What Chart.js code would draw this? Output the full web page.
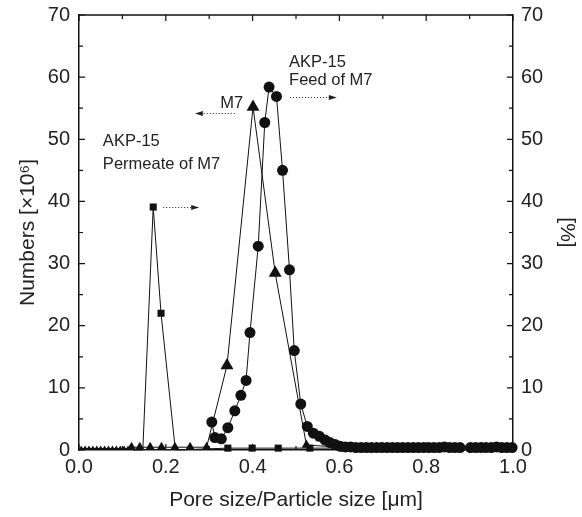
<!DOCTYPE html>
<html lang="en">
<head>
<meta charset="UTF-8" />
<title>Pore size / particle size distribution</title>
<script src="https://cdn.jsdelivr.net/npm/chart.js@4.4.0/dist/chart.umd.min.js"></script>
<style>
  html, body { margin: 0; padding: 0; background: #ffffff; }
  #wrap { width: 582px; height: 517px; position: relative; }
</style>
</head>
<body>
<div id="wrap"><canvas id="psd"></canvas></div>
<script>
// Permeate of M7 (squares)
const permX = [0.125, 0.147, 0.171, 0.189, 0.222, 0.343, 0.399, 0.459, 0.532, 0.610];
const permY = [0.0, 0.0, 39.1, 22.0, 0.0, 0.3, 0.3, 0.3, 0.3, 0.3];
const permR = [0, 0, 5, 5, 0, 5, 5, 5, 5, 5];

// M7 membrane (triangles)
const m7X = [0.005, 0.014, 0.023, 0.032, 0.041, 0.050, 0.059, 0.068, 0.077, 0.086, 0.095, 0.104, 0.113,
             0.121, 0.140, 0.164, 0.190, 0.221, 0.256, 0.294, 0.341, 0.401, 0.452, 0.524, 0.603, 0.696, 0.800, 0.930];
const m7Y = [0.25, 0.25, 0.25, 0.25, 0.25, 0.25, 0.25, 0.25, 0.25, 0.25, 0.25, 0.25, 0.25,
             0.45, 0.45, 0.45, 0.45, 0.45, 0.45, 0.45, 13.6, 55.2, 28.5, 0.8, 0.45, 0.45, 0.45, 0.45];
const m7R = [3, 3, 3, 3, 3, 3, 3, 3, 3, 3, 3, 3, 3,
             5.5, 5.5, 5.5, 5.5, 5.5, 5.5, 5.5, 7.5, 7.5, 7.5, 5.5, 5.5, 5.5, 5.5, 5.5];

// Feed of M7 (circles)
const feedX = [0.306, 0.313, 0.328, 0.343, 0.359, 0.373, 0.385, 0.394, 0.413, 0.428, 0.438, 0.455,
               0.469, 0.485, 0.496, 0.511, 0.526, 0.540, 0.554, 0.567, 0.578, 0.590, 0.602, 0.614,
               0.626, 0.638, 0.650, 0.662, 0.674, 0.686, 0.698, 0.710, 0.722, 0.734, 0.746, 0.758,
               0.770, 0.782, 0.794, 0.806, 0.818, 0.830, 0.842, 0.854, 0.866, 0.878, 0.902, 0.914,
               0.926, 0.938, 0.950, 0.962, 0.974, 0.986, 0.998];
const feedY = [4.5, 2.0, 1.8, 3.6, 6.3, 8.8, 11.2, 18.9, 32.8, 52.7, 58.4, 56.9,
               45.0, 29.0, 16.0, 7.4, 3.8, 2.7, 2.2, 1.6, 1.2, 0.9, 0.6, 0.5,
               0.5, 0.4, 0.4, 0.4, 0.4, 0.4, 0.4, 0.4, 0.4, 0.4, 0.4, 0.4,
               0.4, 0.4, 0.4, 0.4, 0.4, 0.4, 0.5, 0.4, 0.4, 0.4, 0.4, 0.4,
               0.4, 0.4, 0.4, 0.5, 0.4, 0.4, 0.4];

const yTicks = [0, 10, 20, 30, 40, 50, 60, 70];
const xTicks = [0.0, 0.2, 0.4, 0.6, 0.8, 1.0];

const pts = (xs, ys) => xs.map((x, i) => ({ x: x, y: ys[i] }));
const FONT = '"Liberation Sans", Arial, sans-serif';

// inward ticks, top frame line, labels and dotted arrows
const decor = {
  id: 'decor',
  afterDraw(chart) {
    const { ctx, chartArea: a, scales } = chart;
    const sx = scales.x, sy = scales.y;
    ctx.save();
    ctx.strokeStyle = '#111';
    ctx.lineWidth = 1.5;
    ctx.beginPath();
    ctx.moveTo(a.left, a.top); ctx.lineTo(a.right, a.top);
    ctx.stroke();
    ctx.lineWidth = 1.2;
    ctx.beginPath();
    for (let i = 0; i <= 10; i++) {
      const px = sx.getPixelForValue(i / 10);
      const len = i % 2 === 0 ? 6 : 4;
      ctx.moveTo(px, a.bottom); ctx.lineTo(px, a.bottom - len);
      ctx.moveTo(px, a.top); ctx.lineTo(px, a.top + len);
    }
    for (let j = 0; j <= 14; j++) {
      const py = sy.getPixelForValue(j * 5);
      const len = j % 2 === 0 ? 6 : 4;
      ctx.moveTo(a.left, py); ctx.lineTo(a.left + len, py);
      ctx.moveTo(a.right, py); ctx.lineTo(a.right - len, py);
    }
    ctx.stroke();

    ctx.fillStyle = '#222';
    ctx.font = '16.5px ' + FONT;
    ctx.textBaseline = 'middle';
    const txt = (s, x, y, align) => {
      ctx.textAlign = align;
      ctx.fillText(s, sx.getPixelForValue(x), sy.getPixelForValue(y));
    };
    txt('AKP-15', 0.055, 49.6, 'left');
    txt('Permeate of M7', 0.055, 45.9, 'left');
    txt('M7', 0.378, 55.8, 'right');
    txt('AKP-15', 0.484, 62.4, 'left');
    txt('Feed of M7', 0.484, 59.4, 'left');

    const arrow = (x0, x1, y) => {
      const p0 = sx.getPixelForValue(x0), p1 = sx.getPixelForValue(x1);
      const py = Math.round(sy.getPixelForValue(y)) + 0.5;
      const dir = Math.sign(p1 - p0);
      ctx.strokeStyle = '#222';
      ctx.lineWidth = 1;
      ctx.setLineDash([1, 2]);
      ctx.beginPath();
      ctx.moveTo(p0, py); ctx.lineTo(p1 - dir * 6, py);
      ctx.stroke();
      ctx.setLineDash([]);
      ctx.beginPath();
      ctx.moveTo(p1, py);
      ctx.lineTo(p1 - dir * 8, py - 2.5);
      ctx.lineTo(p1 - dir * 8, py + 2.5);
      ctx.closePath();
      ctx.fill();
    };
    arrow(0.194, 0.277, 39.1);
    arrow(0.359, 0.267, 54.3);
    arrow(0.486, 0.594, 56.8);
    ctx.restore();
  }
};

const lineSet = (label, data, style, radius) => ({
  label: label,
  data: data,
  borderColor: '#111',
  borderWidth: 1,
  backgroundColor: '#111',
  pointBackgroundColor: '#111',
  pointBorderColor: '#111',
  pointBorderWidth: 0,
  pointStyle: style,
  pointRadius: radius,
  tension: 0,
  clip: false
});

const fitY = w => s => { s.width = w; s.paddingTop = 0; s.paddingBottom = 0; };

new Chart(document.getElementById('psd'), {
  type: 'line',
  data: {
    datasets: [
      lineSet('Permeate of M7', pts(permX, permY), 'rect', permR),
      lineSet('M7', pts(m7X, m7Y), 'triangle', m7R),
      lineSet('Feed of M7', pts(feedX, feedY), 'circle', 5.5)
    ]
  },
  options: {
    responsive: true,
    maintainAspectRatio: false,
    animation: false,
    events: [],
    layout: { padding: { top: 15, bottom: 0, left: 0, right: 0 } },
    plugins: { legend: { display: false }, tooltip: { enabled: false } },
    scales: {
      x: {
        type: 'linear', min: 0, max: 1,
        afterBuildTicks: s => { s.ticks = xTicks.map(v => ({ value: v })); },
        afterFit: s => { s.height = 67; s.paddingLeft = 0; s.paddingRight = 0; },
        ticks: { color: '#222', font: { family: FONT, size: 20 }, padding: 5,
                 callback: v => v.toFixed(1) },
        grid: { display: false, drawTicks: false },
        border: { color: '#111', width: 1.5 },
        title: { display: true, text: 'Pore size/Particle size [\u03bcm]', color: '#222',
                 font: { family: FONT, size: 21 }, padding: { top: 6 } }
      },
      y: {
        type: 'linear', position: 'left', min: 0, max: 70,
        afterBuildTicks: s => { s.ticks = yTicks.map(v => ({ value: v })); },
        afterFit: fitY(79),
        ticks: { color: '#222', font: { family: FONT, size: 20 }, padding: 9 },
        grid: { display: false, drawTicks: false },
        border: { color: '#111', width: 1.5 },
        title: { display: true, text: 'Numbers [\u00d710\u2076]', color: '#222',
                 font: { family: FONT, size: 21 }, padding: { top: 16 } }
      },
      y2: {
        type: 'linear', position: 'right', min: 0, max: 70,
        afterBuildTicks: s => { s.ticks = yTicks.map(v => ({ value: v })); },
        afterFit: fitY(69),
        ticks: { color: '#222', font: { family: FONT, size: 20 }, padding: 8 },
        grid: { display: false, drawTicks: false },
        border: { color: '#111', width: 1.5 },
        title: { display: true, text: '[%]', color: '#222',
                 font: { family: FONT, size: 21 }, padding: { top: 3 } }
      }
    }
  },
  plugins: [decor]
});
</script>
</body>
</html>
